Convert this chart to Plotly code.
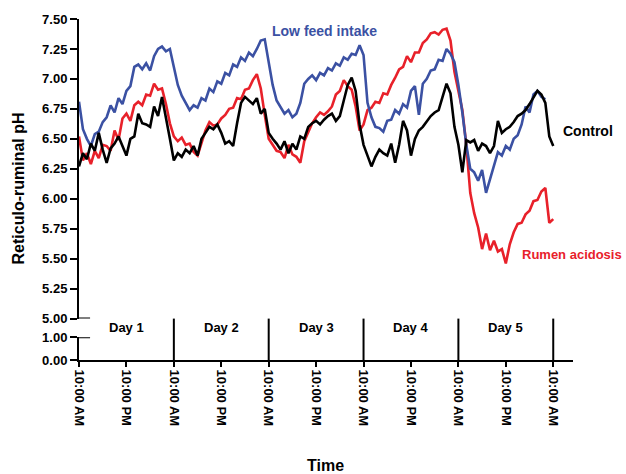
import plotly.graph_objects as go

# ---- data (hourly readings, hour 0 = Day 1 10:00 AM) ----
low_feed_intake = [
    6.81, 6.58, 6.50, 6.44, 6.54, 6.56, 6.64, 6.68, 6.78, 6.72, 6.84, 6.79,
    6.90, 6.94, 7.10, 7.12, 7.08, 7.13, 7.07, 7.19, 7.25, 7.27, 7.23, 7.25,
    7.10, 6.95, 6.86, 6.80, 6.74, 6.78, 6.76, 6.84, 6.82, 6.92, 6.89, 6.98,
    6.96, 7.05, 7.03, 7.12, 7.10, 7.18, 7.15, 7.22, 7.19, 7.25, 7.32, 7.33,
    7.15, 6.95, 6.82, 6.77, 6.71, 6.74, 6.68, 6.71, 6.80, 6.96, 7.00, 7.03,
    6.99, 7.05, 7.03, 7.09, 7.07, 7.13, 7.11, 7.18, 7.16, 7.21, 7.20, 7.28,
    7.20, 6.80, 6.68, 6.60, 6.59, 6.56, 6.65, 6.66, 6.74, 6.71, 6.79, 6.76,
    6.90, 6.94, 6.70, 6.96, 7.00, 7.07, 7.08, 7.16, 7.15, 7.25, 7.21, 7.14,
    6.95, 6.72, 6.45, 6.25, 6.22, 6.15, 6.24, 6.05, 6.16, 6.27, 6.39, 6.36,
    6.44, 6.41, 6.50, 6.53, 6.62, 6.77, 6.72, 6.87, 6.90, 6.85, 6.83,
]
control = [
    6.27, 6.38, 6.33, 6.46, 6.40, 6.55, 6.41, 6.30, 6.42, 6.46, 6.52, 6.44,
    6.36, 6.50, 6.52, 6.71, 6.63, 6.62, 6.60, 6.77, 6.69, 6.85, 6.66, 6.50,
    6.32, 6.38, 6.35, 6.41, 6.38, 6.44, 6.36, 6.50, 6.55, 6.60, 6.58, 6.62,
    6.55, 6.46, 6.48, 6.44, 6.63, 6.80, 6.85, 6.82, 6.79, 6.84, 6.71, 6.75,
    6.55, 6.50, 6.46, 6.41, 6.48, 6.38, 6.46, 6.41, 6.52, 6.50, 6.60, 6.63,
    6.65, 6.62, 6.66, 6.69, 6.71, 6.65, 6.69, 6.82, 6.95, 7.01, 6.90, 6.62,
    6.45, 6.36, 6.27, 6.35, 6.41, 6.38, 6.36, 6.46, 6.30, 6.45, 6.65, 6.57,
    6.36, 6.50, 6.57, 6.60, 6.65, 6.69, 6.72, 6.74, 6.85, 6.96, 6.88, 6.60,
    6.45, 6.22, 6.49, 6.47, 6.49, 6.40, 6.46, 6.44, 6.38, 6.44, 6.65, 6.55,
    6.58, 6.60, 6.64, 6.69, 6.71, 6.74, 6.79, 6.84, 6.90, 6.87, 6.80, 6.52, 6.44,
]
rumen_acidosis = [
    6.52, 6.32, 6.38, 6.29, 6.40, 6.34, 6.45, 6.44, 6.40, 6.57, 6.49, 6.67,
    6.71, 6.65, 6.78, 6.81, 6.78, 6.87, 6.86, 6.96, 6.91, 6.92, 6.79, 6.63,
    6.52, 6.48, 6.51, 6.45, 6.46, 6.39, 6.36, 6.47, 6.57, 6.64, 6.61, 6.62,
    6.67, 6.70, 6.75, 6.76, 6.84, 6.83, 6.91, 6.92, 6.99, 7.04, 6.92, 6.70,
    6.50, 6.45, 6.40, 6.39, 6.34, 6.45, 6.37, 6.35, 6.30, 6.48, 6.55, 6.63,
    6.68, 6.72, 6.70, 6.73, 6.77, 6.87, 6.90, 6.99, 6.94, 6.91, 6.77, 6.57,
    6.62, 6.74, 6.76, 6.81, 6.80, 6.88, 6.87, 6.95, 7.01, 7.08, 7.10, 7.19,
    7.14, 7.22, 7.22, 7.30, 7.33, 7.38, 7.39, 7.37, 7.41, 7.42, 7.32, 7.06,
    6.90, 6.74, 6.45, 6.05, 5.88, 5.76, 5.58, 5.71, 5.57, 5.65, 5.56, 5.58,
    5.46, 5.62, 5.72, 5.79, 5.80, 5.87, 5.90, 5.98, 5.99, 6.06, 6.09, 5.80, 5.83,
]
x_tick_hours = [0, 12, 24, 36, 48, 60, 72, 84, 96, 108, 120]
x_tick_labels = ["10:00 AM", "10:00 PM"] * 5 + ["10:00 AM"]
day_labels = ["Day 1", "Day 2", "Day 3", "Day 4", "Day 5"]
y_upper_ticks = [5.00, 5.25, 5.50, 5.75, 6.00, 6.25, 6.50, 6.75, 7.00, 7.25, 7.50]
y_lower_ticks = [0.00, 1.00]

BLUE = "#3b51a3"
RED = "#e8212a"
BLACK = "#000000"
FONT = "Liberation Sans, Arial, sans-serif"

fig = go.Figure()
for vals, col in [(rumen_acidosis, RED), (low_feed_intake, BLUE), (control, BLACK)]:
    fig.add_trace(go.Scatter(x=list(range(len(vals))), y=vals, mode="lines",
                             line=dict(color=col, width=2.6), xaxis="x", yaxis="y",
                             showlegend=False, hoverinfo="skip"))
# invisible trace to activate lower axis
fig.add_trace(go.Scatter(x=[0], y=[0], mode="markers", marker=dict(opacity=0),
                         xaxis="x", yaxis="y2", showlegend=False, hoverinfo="skip"))

UPPER_DOM = [0.1214, 1.0]
LOWER_DOM = [0.0, 0.0665]

fig.update_layout(
    width=626, height=474,
    margin=dict(l=79, r=53, t=14, b=114),
    paper_bgcolor="white", plot_bgcolor="white",
    font=dict(family=FONT, color="black", size=13),
    xaxis=dict(range=[0, 125], anchor="y2", tickvals=x_tick_hours,
               ticktext=[f"<b>{t}</b>" for t in x_tick_labels], tickangle=90,
               showline=True, linecolor="black", linewidth=2, ticks="outside",
               ticklen=5, tickwidth=2, tickcolor="black", showgrid=False,
               zeroline=False, tickfont=dict(size=13, family=FONT)),
    yaxis=dict(domain=UPPER_DOM, range=[5, 7.5], tickvals=y_upper_ticks,
               ticktext=[f"<b>{v:.2f}</b>" for v in y_upper_ticks],
               showline=True, linecolor="black", linewidth=2, ticks="outside",
               ticklen=7, tickwidth=2, tickcolor="black", showgrid=False,
               zeroline=False, anchor="x", tickfont=dict(size=13, family=FONT)),
    yaxis2=dict(domain=LOWER_DOM, range=[0, 1], tickvals=y_lower_ticks,
                ticktext=[f"<b>{v:.2f}</b>" for v in y_lower_ticks],
                showline=True, linecolor="black", linewidth=2, ticks="outside",
                ticklen=7, tickwidth=2, tickcolor="black", showgrid=False,
                zeroline=False, anchor="x", tickfont=dict(size=13, family=FONT)),
)

shapes = []
# break marks on the y axis
shapes.append(dict(type="line", xref="x", yref="y", x0=0, x1=2.8, y0=5, y1=5,
                   line=dict(color="black", width=2)))
shapes.append(dict(type="line", xref="x", yref="y2", x0=0, x1=2.8, y0=1, y1=1,
                   line=dict(color="black", width=2)))
# day separators
for h in x_tick_hours[2::2]:
    shapes.append(dict(type="line", xref="x", yref="paper", x0=h, x1=h,
                       y0=0, y1=UPPER_DOM[0], line=dict(color="black", width=2)))
fig.update_layout(shapes=shapes)

ann = []
for i, d in enumerate(day_labels):
    ann.append(dict(x=12 + 24 * i, y=0.0954, xref="x", yref="paper", text=f"<b>{d}</b>",
                    xanchor="center", yanchor="middle", showarrow=False,
                    font=dict(size=13, family=FONT, color="black")))
ann.append(dict(x=0.3866, y=0.9653, xref="paper", yref="paper", xanchor="left",
                yanchor="middle", text="<b>Low feed intake</b>", showarrow=False,
                font=dict(size=14, family=FONT, color=BLUE)))
ann.append(dict(x=0.9757, y=0.6705, xref="paper", yref="paper", xanchor="left",
                yanchor="middle", text="<b>Control</b>", showarrow=False,
                font=dict(size=14, family=FONT, color="black")))
ann.append(dict(x=0.8927, y=0.3092, xref="paper", yref="paper", xanchor="left",
                yanchor="middle", text="<b>Rumen acidosis</b>", showarrow=False,
                font=dict(size=13, family=FONT, color=RED)))
ann.append(dict(x=-0.1235, y=0.503, xref="paper", yref="paper", textangle=-90,
                xanchor="center", yanchor="middle",
                text="<b>Reticulo-ruminal pH</b>", showarrow=False,
                font=dict(size=16, family=FONT, color="black")))
ann.append(dict(x=0.498, y=-0.309, xref="paper", yref="paper",
                xanchor="center", yanchor="middle",
                text="<b>Time</b>", showarrow=False,
                font=dict(size=16, family=FONT, color="black")))
fig.update_layout(annotations=ann)

fig.write_html("out.html", config={"displayModeBar": False},
               post_script="document.body.style.margin='0px';")
